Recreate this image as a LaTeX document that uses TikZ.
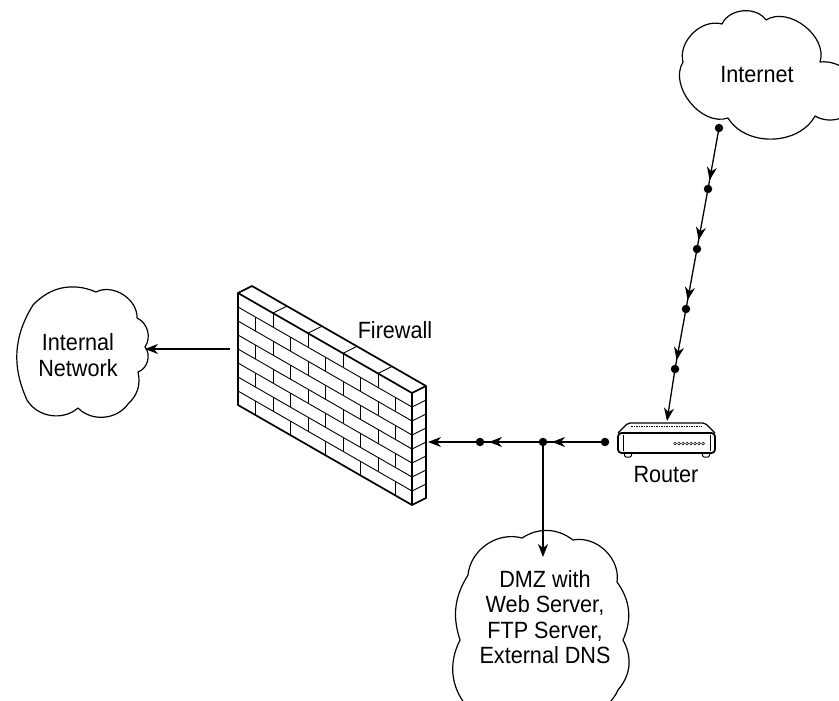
\documentclass[tikz,border=0pt]{standalone}
\usepackage{fontspec}
\setmainfont{Liberation Sans}[FakeStretch=0.92]
\usetikzlibrary{arrows.meta,decorations.markings}
\begin{document}
\begin{tikzpicture}[x=1pt,y=-1pt,
  every node/.style={font=\fontsize{23.5}{25.5}\selectfont, inner sep=0pt},
  conn/.style={line width=1.3pt, draw=black},
  conn-arrow/.style={-{Stealth[length=13pt,width=10pt,inset=4pt]}},
  conn-mid/.style={postaction={decorate},
    decoration={markings, mark=at position -9pt with {\arrow{Stealth[length=13pt,width=10pt,inset=4pt]}}}},
  hopdot/.style={circle, fill=black, minimum size=8.5pt, inner sep=0pt},
  cloudedge/.style={line width=1.2pt, line join=round},
  brickline/.style={line width=0.9pt},
  wallrim/.style={line width=1.7pt, line join=round},
]
\useasboundingbox (0,0) rectangle (839,701);
\clip (0,0) rectangle (839,701);

% ---------- clouds ----------
\draw[cloudedge] (683,62) to[bend left=60] (722,24) to[bend left=60] (766,20)
  to[bend left=70] (820,62) to[bend left=50] (860,100) to[bend left=50] (815,116)
  to[bend left=60] (728,118) to[bend left=70] cycle;
\node[anchor=base] (inet) at (757,83) {Internet};

\draw[cloudedge] (33,305) to[bend left=35] (96,292) to[bend left=60] (137,318)
  to[bend left=50] (145,347) to[bend left=55] (138,372) to[bend left=30] (128,404)
  to[bend left=50] (78,408) to[bend left=50] (27,400) to[bend left=28] cycle;
\node[align=center] (lan) at (78,355) {Internal\\Network};

\draw[cloudedge] (468,575) to[bend left=50] (522,538) to[bend left=35] (573,540)
  to[bend left=55] (617,582) to[bend left=30] (623,640) to[bend left=35] (618,690)
  to[bend left=45] (560,712) to[bend left=40] (470,710) to[bend left=35] (460,640)
  to[bend left=25] cycle;
\node[align=center] (dmz) at (545,617) {DMZ with\\Web Server,\\FTP Server,\\External DNS};

% ---------- brick firewall ----------
\fill[white] (238,293) -- (252,286) -- (426,386) -- (426,498) -- (412,505) -- (238,405) -- cycle;
% front face courses
\foreach \r in {1,...,7}
  \draw[brickline] (238,{293+14*\r}) -- (412,{393+14*\r});
% front face joints, staggered by half a brick
\foreach \r in {0,...,7}{
  \pgfmathtruncatemacro\odd{mod(\r,2)}
  \ifnum\odd=0 \def\xs{273,308,343,378}\else\def\xs{255.5,290.5,325.5,360.5,395.5}\fi
  \foreach \x in \xs
    \draw[brickline] (\x,{293+100/174*(\x-238)+14*\r}) -- (\x,{293+100/174*(\x-238)+14*(\r+1)});
}
% top face joints
\foreach \x in {273,308,343,378}
  \draw[brickline] (\x,{293+100/174*(\x-238)}) -- ++(14,-7);
% side face courses
\foreach \r in {1,...,7}
  \draw[brickline] (412,{393+14*\r}) -- ++(14,-7);
% outline
\draw[wallrim] (238,293) -- (252,286) -- (426,386) -- (426,498) -- (412,505) -- (238,405) -- cycle;
\draw[wallrim] (238,293) -- (412,393) -- (412,505);
\draw[wallrim] (412,393) -- (426,386);
\node[anchor=base] (fwlabel) at (395,338) {Firewall};

% ---------- router ----------
\draw[line width=1.2pt, rounded corners=2pt] (618,433) -- (628,423) -- (705,423) -- (715,433);
\draw[line width=0.5pt, dash pattern=on 1.5pt off 1pt] (631,426.5) -- (702,426.5);
\draw[line width=1pt, rounded corners=1pt] (624,453) -- (625,457) -- (631,457) -- (632,453);
\draw[line width=1pt, rounded corners=1pt] (702,453) -- (703,457) -- (709,457) -- (710,453);
\draw[line width=1.8pt, rounded corners=3.5pt, fill=white] (618,433) rectangle (715,453);
\draw[line width=0.8pt] (623,435) -- (623,451) (710,435) -- (710,451);
\foreach \i in {0,...,7}
  \draw[line width=0.5pt] ({675+4*\i},443.5) circle (1.4pt);
\node[anchor=base] (rtlabel) at (666,482) {Router};
\coordinate (rt-top) at (667,421);

% ---------- connection points ----------
\node[hopdot] (d1) at (719,128) {};
\node[hopdot] (d2) at (708,189) {};
\node[hopdot] (d3) at (697,249) {};
\node[hopdot] (d4) at (686,309) {};
\node[hopdot] (d5) at (675,369) {};
\node[hopdot] (h1) at (605,442) {};
\node[hopdot] (h2) at (543,442) {};
\node[hopdot] (h3) at (480,442) {};
\coordinate (fw-in) at (428,442);
\coordinate (fw-out) at (230,349);
\coordinate (lan-in) at (145,349);
\coordinate (dmz-in) at (543,557);

% ---------- connectors ----------
\draw[conn, conn-mid] (d1.center) -- (d2.center);
\draw[conn, conn-mid] (d2.center) -- (d3.center);
\draw[conn, conn-mid] (d3.center) -- (d4.center);
\draw[conn, conn-mid] (d4.center) -- (d5.center);
\draw[conn, conn-arrow] (d5.center) -- (rt-top);
\draw[conn, conn-mid] (h1.center) -- (h2.center);
\draw[conn, conn-mid] (h2.center) -- (h3.center);
\draw[conn, conn-arrow] (h3.center) -- (fw-in);
\draw[conn, conn-arrow] (h2.center) -- (dmz-in);
\draw[conn, conn-arrow] (fw-out) -- (lan-in);
\end{tikzpicture}
\end{document}
